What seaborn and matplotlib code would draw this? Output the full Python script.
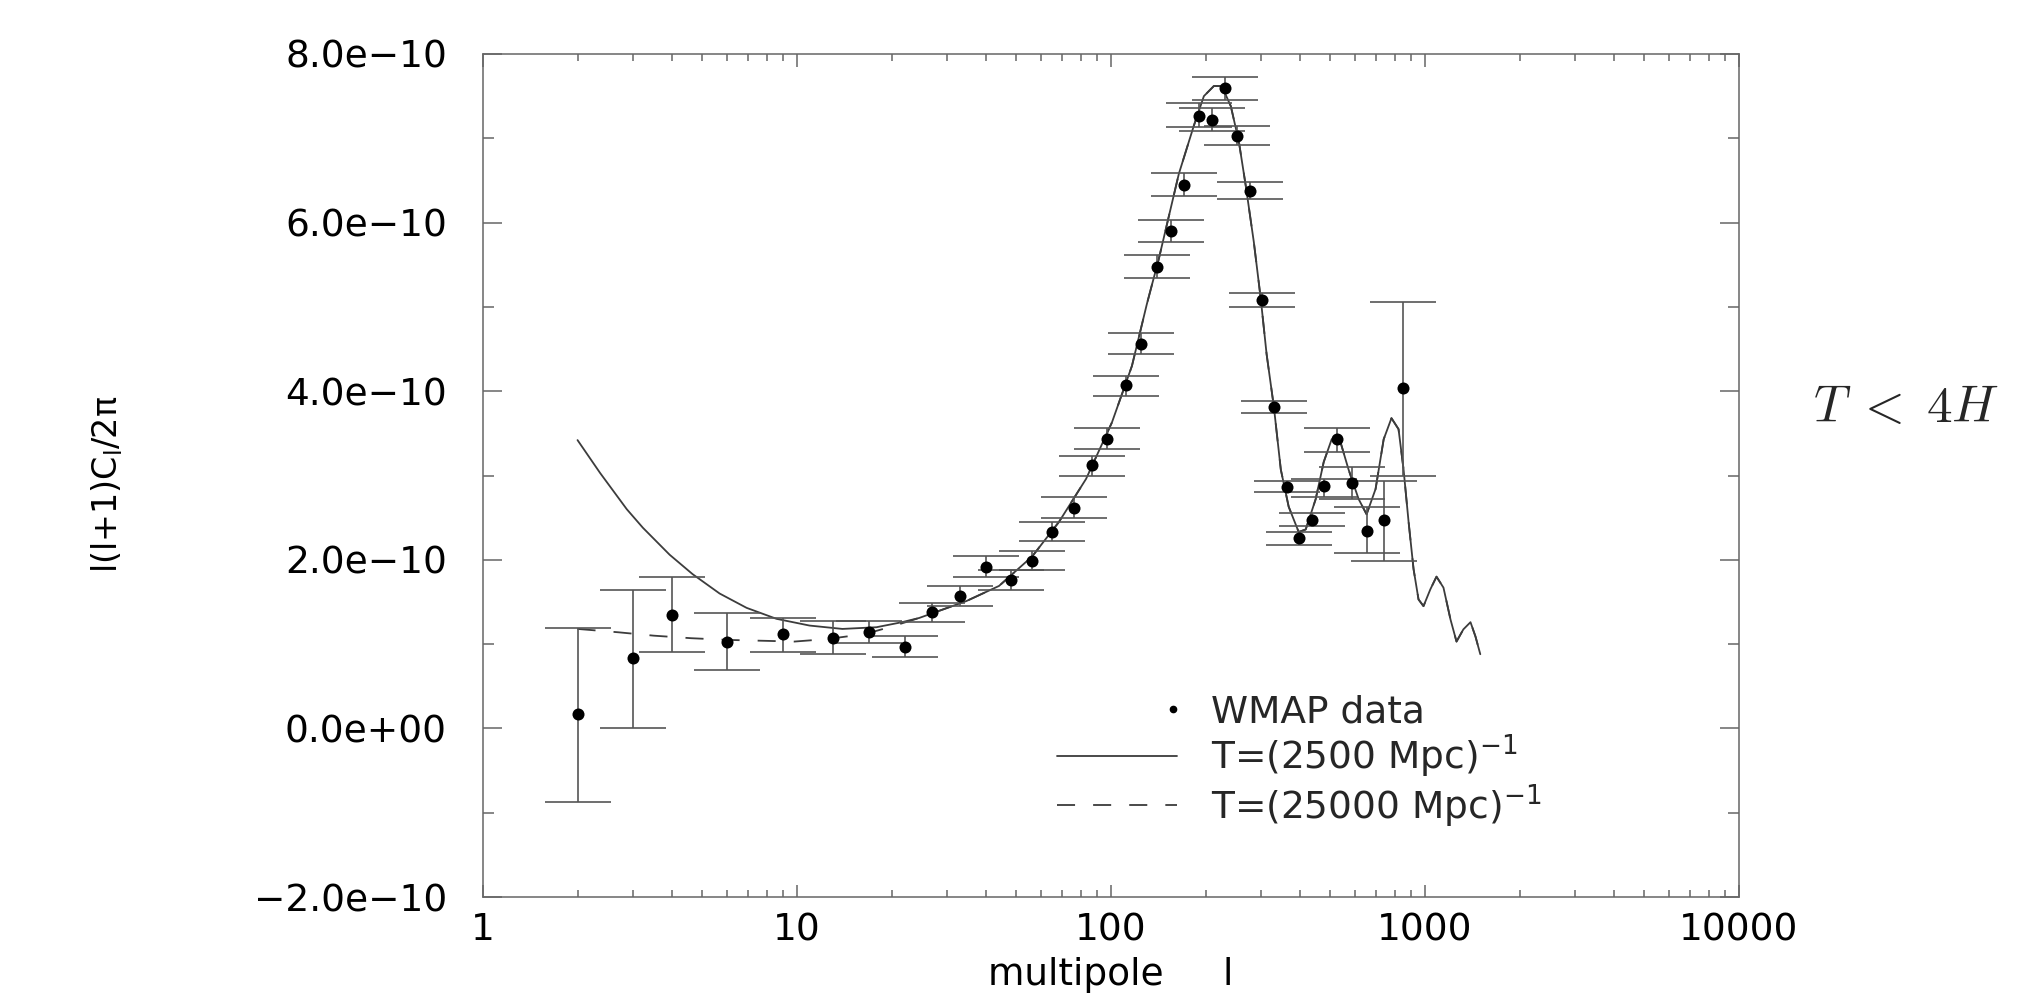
import numpy as np
import pandas as pd
import matplotlib
matplotlib.use('Agg')
import matplotlib.pyplot as plt
import seaborn as sns
from matplotlib.ticker import LogLocator, NullFormatter, MultipleLocator
from matplotlib.lines import Line2D
from matplotlib.legend_handler import HandlerLine2D

# WMAP band powers, values in units of 1e-10
ell = [2, 3, 4, 6, 9, 13, 17, 22, 27, 33, 40, 48, 56, 65, 76, 87, 97, 112, 125,
       140, 155, 171, 190, 210, 230, 252, 277, 302, 330, 363, 396, 436, 476,
       523, 584, 652, 743, 848]
cl = [0.17, 0.83, 1.35, 1.02, 1.12, 1.07, 1.14, 0.97, 1.38, 1.57, 1.92, 1.76,
      1.99, 2.33, 2.62, 3.12, 3.43, 4.07, 4.56, 5.47, 5.90, 6.45, 7.26, 7.22,
      7.60, 7.03, 6.37, 5.08, 3.81, 2.86, 2.26, 2.47, 2.87, 3.43, 2.91, 2.34,
      2.47, 4.04]
cl_hi = [1.19, 1.64, 1.80, 1.365, 1.305, 1.27, 1.27, 1.10, 1.49, 1.69, 2.04,
         1.88, 2.11, 2.45, 2.74, 3.23, 3.56, 4.18, 4.69, 5.61, 6.03, 6.59, 7.42,
         7.36, 7.73, 7.15, 6.48, 5.16, 3.88, 2.93, 2.33, 2.56, 2.96, 3.56, 3.10,
         2.63, 2.94, 5.06]
cl_lo = [-0.87, 0.0, 0.91, 0.69, 0.91, 0.88, 1.01, 0.85, 1.26, 1.45, 1.80,
         1.64, 1.88, 2.22, 2.50, 2.99, 3.31, 3.94, 4.44, 5.34, 5.77, 6.31, 7.13,
         7.09, 7.45, 6.92, 6.28, 5.00, 3.74, 2.80, 2.18, 2.40, 2.75, 3.28, 2.72,
         2.08, 1.99, 3.00]

# model T=(2500 Mpc)^-1
model_ell = [2.0, 2.36, 2.87, 3.23, 3.93, 4.65, 5.67, 6.91, 8.6, 10.96, 13.95,
             17.9, 21.6, 24.5, 34.6, 44.0, 56.1, 68.3, 83.3, 100.7, 116.6, 130,
             142, 164.5, 183.6, 197.6, 212.6, 225.3, 240.8, 255.4, 268.8, 285,
             300, 313, 330, 347.4, 368, 396, 417, 448.6, 475.8, 504.5, 538.6,
             571, 614.7, 651.6, 696, 738.6, 782, 823.6, 854.6, 886.6, 919.5,
             953.6, 989, 1040, 1088, 1145, 1206, 1260, 1325, 1396, 1448, 1500]
model_cl = [3.42, 3.03, 2.60, 2.38, 2.06, 1.83, 1.60, 1.43, 1.30, 1.22, 1.18,
            1.20, 1.26, 1.31, 1.51, 1.69, 2.04, 2.45, 2.96, 3.63, 4.30, 5.03,
            5.57, 6.58, 7.15, 7.50, 7.62, 7.62, 7.38, 6.96, 6.43, 5.77, 5.09,
            4.44, 3.82, 3.07, 2.63, 2.33, 2.36, 2.72, 3.16, 3.43, 3.39, 3.07,
            2.72, 2.54, 2.84, 3.43, 3.68, 3.55, 3.07, 2.45, 1.89, 1.53, 1.45,
            1.65, 1.80, 1.67, 1.29, 1.03, 1.175, 1.26, 1.09, 0.88]

# model T=(25000 Mpc)^-1, differs only at low l
dash_ell = [2.0, 2.7, 3.5, 4.6, 6.0, 7.7, 9.8, 12.5, 16.5, 20.1]
dash_cl = [1.18, 1.14, 1.10, 1.07, 1.05, 1.04, 1.03, 1.06, 1.12, 1.21]

xticks = [1, 10, 100, 1000, 10000]
xtick_labels = ['1', '10', '100', '1000', '10000']
yticks = [-2, 0, 2, 4, 6, 8]
ytick_labels = ['\u22122.0e\u221210', '0.0e+00', '2.0e\u221210', '4.0e\u221210',
                '6.0e\u221210', '8.0e\u221210']
legend_labels = ['WMAP data', r'T=(2500 Mpc)$^{\mathregular{-1}}$',
                 r'T=(25000 Mpc)$^{\mathregular{-1}}$']

sns.set_theme(style='ticks')
plt.rcParams['font.family'] = ['DejaVu Sans']
plt.rcParams['mathtext.fontset'] = 'dejavusans'
plt.rcParams['lines.scale_dashes'] = False

scale = 1e-10
wmap = pd.DataFrame({'ell': ell, 'cl': np.array(cl) * scale,
                     'hi': np.array(cl_hi) * scale, 'lo': np.array(cl_lo) * scale})
m_ell = np.array(model_ell)
m_cl = np.array(model_cl) * scale
d_ell = np.concatenate([dash_ell, m_ell[m_ell >= 24]])
d_cl = np.concatenate([np.array(dash_cl) * scale, m_cl[m_ell >= 24]])

fig = plt.figure(figsize=(20.28, 10.07), dpi=100)
ax = fig.add_axes([483 / 2028, 1 - 897 / 1007, (1739 - 483) / 2028, (897 - 54) / 1007])

line_col = '#3c3c3c'
dash_style = (0, (13, 13))
sns.lineplot(x=m_ell, y=m_cl, ax=ax, color=line_col, lw=1.3, sort=False, estimator=None)
sns.lineplot(x=d_ell, y=d_cl, ax=ax, color=line_col, lw=1.3, sort=False, estimator=None,
             linestyle=dash_style)

ax.errorbar(wmap['ell'], wmap['cl'], yerr=[wmap['cl'] - wmap['lo'], wmap['hi'] - wmap['cl']],
            fmt='none', ecolor='#555555', elinewidth=1.2, capsize=24, capthick=1.2)
sns.scatterplot(data=wmap, x='ell', y='cl', ax=ax, color='black', s=75, linewidth=0, zorder=3)

ax.set_xscale('log')
ax.set_xlim(1, 10000)
ax.set_ylim(-2 * scale, 8 * scale)
ax.set_xticks(xticks)
ax.set_xticklabels(xtick_labels)
ax.xaxis.set_minor_locator(LogLocator(base=10, subs=np.arange(2, 10)))
ax.xaxis.set_minor_formatter(NullFormatter())
ax.set_yticks(np.array(yticks) * scale)
ax.set_yticklabels(ytick_labels)
ax.yaxis.set_minor_locator(MultipleLocator(1 * scale))

ax.tick_params(which='both', direction='in', top=True, right=True, color='#666666',
               width=1.1, labelsize=27, labelcolor='black')
ax.tick_params(axis='x', which='major', length=9, pad=11)
ax.tick_params(axis='x', which='minor', length=5)
ax.tick_params(axis='y', which='major', length=14, pad=26)
ax.tick_params(axis='y', which='minor', length=8)
for s in ax.spines.values():
    s.set_color('#666666')
    s.set_linewidth(1.1)

ax.set_xlabel('multipole     l', fontsize=27, color='black')
ax.xaxis.set_label_coords(0.5, -0.0925)
ax.xaxis.label.set_va('center')
ax.set_ylabel('l(l+1)C$_{\\mathregular{l}}$/2\u03c0', fontsize=24, color='black')
ax.yaxis.set_label_coords(-0.299, 0.49)
ax.yaxis.label.set_va('center')


class DotRight(HandlerLine2D):
    # put the single marker at the right end of the handle
    def get_xdata(self, legend, xdescent, ydescent, width, height, fontsize):
        xdata = np.array([-xdescent + width * 0.94, -xdescent + width])
        return xdata, np.array([-xdescent + width * 0.97])


handles = [Line2D([], [], ls='none', marker='o', ms=4.5, color='black'),
           Line2D([], [], color=line_col, lw=1.3),
           Line2D([], [], color=line_col, lw=1.3, ls=dash_style)]
fig.legend(handles, legend_labels, handler_map={handles[0]: DotRight()},
           loc='center left', bbox_to_anchor=(1057 / 2028, 1 - 762 / 1007),
           frameon=False, fontsize=27, handlelength=3.2, handletextpad=0.9,
           labelspacing=0.05, borderpad=0, borderaxespad=0)

fig.text(1906 / 2028, 1 - 408 / 1007, r'$T\;<\;4H$', fontsize=37, ha='center',
         va='center', math_fontfamily='cm')

fig.savefig('out.png', dpi=100)
